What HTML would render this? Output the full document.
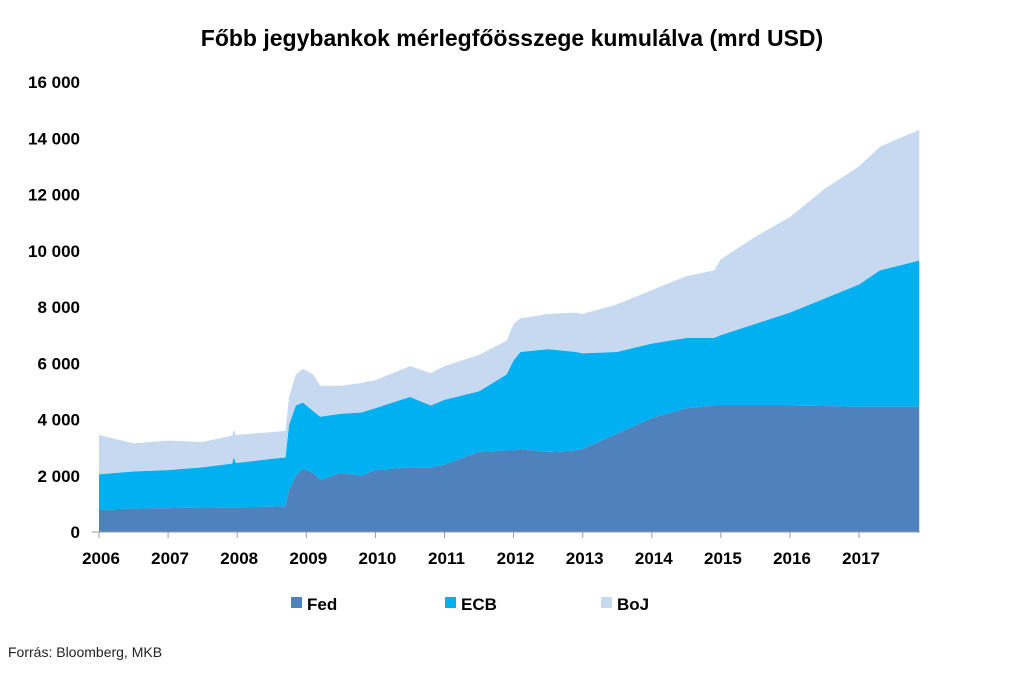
<!DOCTYPE html>
<html><head><meta charset="utf-8">
<style>
body{margin:0;background:#fff;width:1024px;height:669px;overflow:hidden;font-family:"Liberation Sans",sans-serif;}
</style></head>
<body>
<svg width="1024" height="669" xmlns="http://www.w3.org/2000/svg">
<text x="512" y="46" text-anchor="middle" font-size="23" font-weight="bold" fill="#000">Főbb jegybankok mérlegfőösszege kumulálva (mrd USD)</text>
<g id="plot"></g>
<g id="axes"></g>
<g>
<g><rect x="291" y="597" width="11" height="11" fill="#4f81bd"/><text x="307" y="610" font-size="17" font-weight="bold">Fed</text></g>
<g><rect x="445" y="597" width="11" height="11" fill="#00b0f0"/><text x="461" y="610" font-size="17" font-weight="bold">ECB</text></g>
<g><rect x="601" y="597" width="11" height="11" fill="#c6d9f0"/><text x="617" y="610" font-size="17" font-weight="bold">BoJ</text></g>
</g>
<text x="8" y="657" font-size="14" fill="#222">Forrás: Bloomberg, MKB</text>
</svg>
<script>
const times=[2006.0,2006.5,2007.0,2007.5,2007.93,2007.95,2007.98,2008.5,2008.7,2008.75,2008.85,2008.95,2009.1,2009.2,2009.5,2009.8,2010.0,2010.5,2010.8,2011.0,2011.5,2011.9,2012.0,2012.1,2012.5,2012.9,2013.0,2013.5,2014.0,2014.5,2014.9,2015.0,2015.5,2016.0,2016.5,2017.0,2017.3,2017.87];
const fed=[800,830,850,870,880,880,880,900,920,1500,2000,2250,2100,1850,2100,2000,2200,2300,2300,2400,2850,2900,2900,2950,2850,2900,2950,3500,4050,4400,4500,4500,4500,4500,4480,4450,4450,4450];
const ecb=[1250,1320,1350,1430,1550,1770,1570,1700,1730,2300,2500,2350,2200,2250,2100,2250,2200,2500,2200,2300,2150,2700,3200,3450,3650,3500,3400,2900,2650,2500,2400,2500,2900,3300,3820,4350,4850,5200];
const boj=[1400,1000,1050,900,1000,1000,1000,950,950,1000,1100,1200,1300,1100,1000,1050,1000,1100,1150,1200,1300,1200,1300,1200,1250,1400,1400,1700,1900,2200,2400,2700,3100,3400,3900,4200,4400,4650];
const yTicks=[0,2000,4000,6000,8000,10000,12000,14000,16000];
const yTickLabels=["0","2 000","4 000","6 000","8 000","10 000","12 000","14 000","16 000"];
const xYears=[2006,2007,2008,2009,2010,2011,2012,2013,2014,2015,2016,2017];

const NS="http://www.w3.org/2000/svg";
const X=t=>99+(t-2006)*69.1;
const Y=v=>532-v*(450/16000);
const plot=document.getElementById('plot'),axes=document.getElementById('axes');
function area(lower,upper,color,name){
  let d="M"+X(times[0])+","+Y(upper[0]);
  for(let i=1;i<times.length;i++)d+="L"+X(times[i])+","+Y(upper[i]);
  for(let i=times.length-1;i>=0;i--)d+="L"+X(times[i])+","+Y(lower[i]);
  const p=document.createElementNS(NS,'path');
  p.setAttribute('d',d+"Z");p.setAttribute('fill',color);
  
  
  plot.appendChild(p);
}
const zero=times.map(()=>0);
const s1=fed.slice();
const s2=fed.map((v,i)=>v+ecb[i]);
const s3=s2.map((v,i)=>v+boj[i]);
area(s2,s3,'#c6d9f0','boj-area');
area(s1,s2,'#00b0f0','ecb-area');
area(zero,s1,'#4f81bd','fed-area');
const ax=document.createElementNS(NS,'line');
ax.setAttribute('x1',92);ax.setAttribute('x2',920);ax.setAttribute('y1',532);ax.setAttribute('y2',532);ax.setAttribute('stroke','#999');


axes.appendChild(ax);
yTicks.forEach((v,i)=>{
  const t=document.createElementNS(NS,'text');
  t.setAttribute('x',80);t.setAttribute('y',Y(v)+6);t.setAttribute('text-anchor','end');
  t.setAttribute('font-size','17');t.setAttribute('font-weight','bold');
  t.textContent=yTickLabels[i];
  
  
  axes.appendChild(t);
});
xYears.forEach(yr=>{
  const l=document.createElementNS(NS,'line');
  l.setAttribute('x1',X(yr));l.setAttribute('x2',X(yr));l.setAttribute('y1',532);l.setAttribute('y2',538);l.setAttribute('stroke','#999');
  
  
  axes.appendChild(l);
  const t=document.createElementNS(NS,'text');
  t.setAttribute('x',X(yr)+2);t.setAttribute('y',564);t.setAttribute('text-anchor','middle');
  t.setAttribute('font-size','17');t.setAttribute('font-weight','bold');
  t.textContent=yr;
  
  
  axes.appendChild(t);
});
</script>
</body></html>
